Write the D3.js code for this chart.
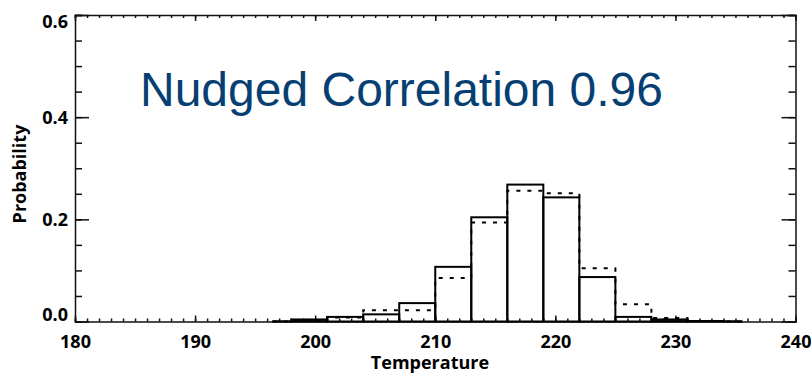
<!DOCTYPE html>
<html>
<head>
<meta charset="utf-8">
<script src="https://cdn.jsdelivr.net/npm/d3@7"></script>
<style>
  body { margin: 0; background: #fff; }
  .axis text { font-family: "Open Sans", sans-serif; font-weight: bold; font-size: 18px; fill: #000; }
  .axis path, .axis line { stroke: #111; stroke-width: 1.5; }
</style>
</head>
<body>
<div id="container"></div>
<script>
// chart size and margins
const width = 811;
const height = 373;
const marginTop = 15;
const marginRight = 15.5;
const marginBottom = 51.5;
const marginLeft = 75;

// histogram bins (left edge, width 3 K)
const binStarts = [195, 198, 201, 204, 207, 210, 213, 216, 219, 222, 225, 228, 231, 234];
const binWidth = 3;
// solid bars (model)
const solidValues = [0.0005, 0.004, 0.009, 0.014, 0.036, 0.107, 0.204, 0.268, 0.243, 0.087, 0.009, 0.004, 0.001, 0.0005];
// dashed outline (obs)
const dashedValues = [0.0, 0.002, 0.008, 0.022, 0.022, 0.085, 0.194, 0.256, 0.251, 0.104, 0.034, 0.007, 0.001, 0.0];

const xTicks = [180, 190, 200, 210, 220, 230, 240];
const yTicks = [0.0, 0.2, 0.4, 0.6];
const titleText = "Nudged Correlation 0.96";

const x = d3.scaleLinear()
    .domain([180, 240])
    .range([marginLeft, width - marginRight]);

const y = d3.scaleLinear()
    .domain([0, 0.6])
    .range([height - marginBottom, marginTop]);

const svg = d3.select("#container")
    .append("svg")
    .attr("width", width)
    .attr("height", height);

const xMinor = d3.range(180, 241, 1);
const yMinor = d3.range(0, 0.6001, 0.05);

// bottom axis: minor then major with labels
svg.append("g").attr("class", "axis")
    .attr("transform", `translate(0,${height - marginBottom})`)
    .call(d3.axisBottom(x).tickValues(xMinor).tickSize(-3).tickFormat(""));
svg.append("g").attr("class", "axis")
    .attr("transform", `translate(0,${height - marginBottom})`)
    .call(d3.axisBottom(x).tickValues(xTicks).tickSize(-6).tickPadding(14).tickFormat(d3.format("d")))
    .call(g => g.select(".domain").remove());

// top axis, no labels
svg.append("g").attr("class", "axis")
    .attr("transform", `translate(0,${marginTop})`)
    .call(d3.axisTop(x).tickValues(xMinor).tickSize(-3).tickFormat(""));
svg.append("g").attr("class", "axis")
    .attr("transform", `translate(0,${marginTop})`)
    .call(d3.axisTop(x).tickValues(xTicks).tickSize(-6).tickFormat(""))
    .call(g => g.select(".domain").remove());

// left axis
svg.append("g").attr("class", "axis")
    .attr("transform", `translate(${marginLeft},0)`)
    .call(d3.axisLeft(y).tickValues(yMinor).tickSize(-7).tickFormat(""));
svg.append("g").attr("class", "axis")
    .attr("transform", `translate(${marginLeft},0)`)
    .call(d3.axisLeft(y).tickValues(yTicks).tickSize(-14).tickPadding(7).tickFormat(d3.format(".1f")))
    .call(g => g.select(".domain").remove())
    .call(g => g.selectAll(".tick text")
        .attr("dy", d => d === 0 ? "-0.05em" : d === 0.6 ? "0.7em" : "0.35em"));

// right axis
svg.append("g").attr("class", "axis")
    .attr("transform", `translate(${width - marginRight},0)`)
    .call(d3.axisRight(y).tickValues(yMinor).tickSize(-7).tickFormat(""));
svg.append("g").attr("class", "axis")
    .attr("transform", `translate(${width - marginRight},0)`)
    .call(d3.axisRight(y).tickValues(yTicks).tickSize(-14).tickFormat(""))
    .call(g => g.select(".domain").remove());

// first and last bins are only drawn as half bins (histogram step mode)
const firstCenter = binStarts[0] + binWidth / 2;
const lastCenter = binStarts[binStarts.length - 1] + binWidth / 2;
const binLo = b => Math.max(b, firstCenter);
const binHi = b => Math.min(b + binWidth, lastCenter);

// solid histogram bars
svg.append("g")
    .selectAll("rect")
    .data(binStarts.map((b, i) => ({ x0: b, v: solidValues[i] })))
    .enter()
    .append("rect")
    .attr("x", d => x(binLo(d.x0)))
    .attr("y", d => y(d.v))
    .attr("width", d => x(binHi(d.x0)) - x(binLo(d.x0)))
    .attr("height", d => y(0) - y(d.v))
    .attr("fill", "none")
    .attr("stroke", "#000")
    .attr("stroke-width", 2);

// dashed step outline
const stepPts = [];
binStarts.forEach((b, i) => {
  stepPts.push([binLo(b), dashedValues[i]]);
  stepPts.push([binHi(b), dashedValues[i]]);
});
svg.append("path")
    .datum(stepPts)
    .attr("d", d3.line().x(d => x(d[0])).y(d => y(d[1])))
    .attr("fill", "none")
    .attr("stroke", "#000")
    .attr("stroke-width", 2)
    .attr("stroke-dasharray", "4,7");

// axis titles
svg.append("text")
    .attr("x", 430)
    .attr("y", 369)
    .attr("text-anchor", "middle")
    .style("font-family", "'Open Sans', sans-serif")
    .style("font-weight", "bold")
    .style("font-size", "18px")
    .text("Temperature");

svg.append("text")
    .attr("transform", "translate(26,174) rotate(-90)")
    .attr("text-anchor", "middle")
    .style("font-family", "'Open Sans', sans-serif")
    .style("font-weight", "bold")
    .style("font-size", "18px")
    .text("Probability");

// big title inside the plot
svg.append("text")
    .attr("x", 140)
    .attr("y", 106)
    .style("font-family", "'Liberation Sans', Arial, sans-serif")
    .style("font-size", "48px")
    .attr("fill", "#073f73")
    .text(titleText);
</script>
</body>
</html>
